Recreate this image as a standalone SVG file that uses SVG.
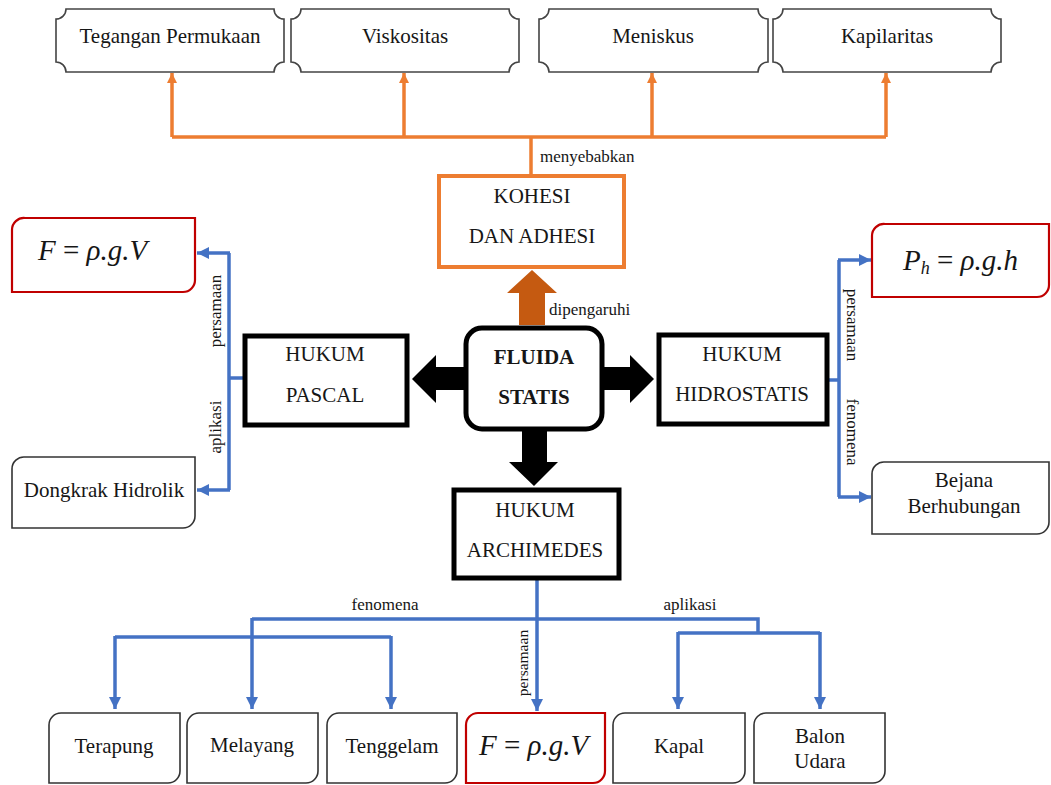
<svg xmlns="http://www.w3.org/2000/svg" width="1051" height="785" viewBox="0 0 1051 785">
<defs>
<style>
.t{font-family:"Liberation Serif","Times New Roman",serif;font-size:21px;fill:#161616;text-anchor:middle}
.b{font-weight:bold}
.s{font-family:"Liberation Serif","Times New Roman",serif;font-size:17px;fill:#161616}
.m{font-family:"Liberation Serif","Times New Roman",serif;font-size:29px;fill:#161616;font-style:italic}
.plaque{fill:#fff;stroke:#444;stroke-width:1.6}
.rb{fill:#fff;stroke:#333;stroke-width:1.6}
.red{fill:#fff;stroke:#C00000;stroke-width:2.2}
.thick{fill:#fff;stroke:#000;stroke-width:5}
.or{fill:none;stroke:#ED7D31;stroke-width:3.5}
.bl{fill:none;stroke:#4472C4;stroke-width:3.5}
</style>
<marker id="ao" markerUnits="userSpaceOnUse" markerWidth="10" markerHeight="10" refX="10" refY="5" orient="auto">
<path d="M0,0 L10,5 L0,10 Z" fill="#ED7D31"/>
</marker>
<marker id="ab" markerUnits="userSpaceOnUse" markerWidth="12" markerHeight="12" refX="12" refY="6" orient="auto">
<path d="M0,0 L12,6 L0,12 Z" fill="#4472C4"/>
</marker>
</defs>
<rect width="1051" height="785" fill="#fff"/>

<g id="connectors">
<!-- orange -->
<path class="or" d="M531,175 V137"/>
<path class="or" d="M172,137 H886"/>
<path class="or" d="M172,137 V73" marker-end="url(#ao)"/>
<path class="or" d="M404,137 V73" marker-end="url(#ao)"/>
<path class="or" d="M652,137 V73" marker-end="url(#ao)"/>
<path class="or" d="M886,137 V73" marker-end="url(#ao)"/>
<!-- block arrows -->
<polygon points="519,325 545,325 545,293 557,293 532,270 507,293 519,293" fill="#C55A11"/>
<polygon points="465,367 436,367 436,355 412,379 436,403 436,390 465,390" fill="#000"/>
<polygon points="602,367 630,367 630,355 654,379 630,403 630,390 602,390" fill="#000"/>
<polygon points="522,429 547,429 547,462 558,462 534,486 509,462 522,462" fill="#000"/>
<!-- blue left -->
<path class="bl" d="M243,378 H229"/>
<path class="bl" d="M229,253 V490"/>
<path class="bl" d="M230,253 H197" marker-end="url(#ab)"/>
<path class="bl" d="M230,490 H197" marker-end="url(#ab)"/>
<!-- blue right -->
<path class="bl" d="M827,380 H839"/>
<path class="bl" d="M839,260 V497"/>
<path class="bl" d="M838,260 H871" marker-end="url(#ab)"/>
<path class="bl" d="M838,497 H871" marker-end="url(#ab)"/>
<!-- blue bottom -->
<path class="bl" d="M537,578 V711" marker-end="url(#ab)"/>
<path class="bl" d="M252,619 H758 V633"/>
<path class="bl" d="M252,618 V709" marker-end="url(#ab)"/>
<path class="bl" d="M115,637 H391"/>
<path class="bl" d="M115,636 V709" marker-end="url(#ab)"/>
<path class="bl" d="M391,636 V709" marker-end="url(#ab)"/>
<path class="bl" d="M678,633 H820"/>
<path class="bl" d="M678,632 V709" marker-end="url(#ab)"/>
<path class="bl" d="M820,632 V709" marker-end="url(#ab)"/>
<!-- labels -->
<text class="s" x="540" y="162">menyebabkan</text>
<text class="s" x="549" y="315">dipengaruhi</text>
<text class="s" transform="translate(221,311) rotate(-90)" text-anchor="middle">persamaan</text>
<text class="s" transform="translate(221,427) rotate(-90)" text-anchor="middle">aplikasi</text>
<text class="s" transform="translate(847,325) rotate(90)" text-anchor="middle">persamaan</text>
<text class="s" transform="translate(847,432) rotate(90)" text-anchor="middle">fenomena</text>
<text class="s" x="385" y="610" text-anchor="middle">fenomena</text>
<text class="s" x="690" y="610" text-anchor="middle">aplikasi</text>
<text class="s" transform="translate(528,663) rotate(-90)" text-anchor="middle" style="font-size:15.5px">persamaan</text>
</g>

<g id="n-tegangan">
<path class="plaque" d="M66,9 H274 A10,10 0 0 0 284,19 V62 A10,10 0 0 0 274,72 H66 A10,10 0 0 0 56,62 V19 A10,10 0 0 0 66,9 Z"/>
<text class="t" x="170" y="43">Tegangan Permukaan</text>
</g>
<g id="n-viskositas">
<path class="plaque" d="M301,9 H509 A10,10 0 0 0 519,19 V62 A10,10 0 0 0 509,72 H301 A10,10 0 0 0 291,62 V19 A10,10 0 0 0 301,9 Z"/>
<text class="t" x="405" y="43">Viskositas</text>
</g>
<g id="n-meniskus">
<path class="plaque" d="M549,9 H758 A10,10 0 0 0 768,19 V62 A10,10 0 0 0 758,72 H549 A10,10 0 0 0 539,62 V19 A10,10 0 0 0 549,9 Z"/>
<text class="t" x="653" y="43">Meniskus</text>
</g>
<g id="n-kapilaritas">
<path class="plaque" d="M783,9 H991 A10,10 0 0 0 1001,19 V62 A10,10 0 0 0 991,72 H783 A10,10 0 0 0 773,62 V19 A10,10 0 0 0 783,9 Z"/>
<text class="t" x="887" y="43">Kapilaritas</text>
</g>

<g id="n-kohesi">
<rect x="439" y="176" width="185" height="91" fill="#fff" stroke="#ED7D31" stroke-width="4"/>
<text class="t" x="532" y="203">KOHESI</text>
<text class="t" x="532" y="243">DAN ADHESI</text>
</g>

<g id="n-fluida">
<rect x="466" y="328" width="136" height="101" rx="16" class="thick"/>
<text class="t b" x="534" y="364">FLUIDA</text>
<text class="t b" x="534" y="404">STATIS</text>
</g>

<g id="n-pascal">
<rect x="245" y="336" width="162" height="89" class="thick"/>
<text class="t" x="325" y="361">HUKUM</text>
<text class="t" x="325" y="402">PASCAL</text>
</g>

<g id="n-hidrostatis">
<rect x="659" y="335" width="168" height="89" class="thick"/>
<text class="t" x="742" y="361">HUKUM</text>
<text class="t" x="742" y="401">HIDROSTATIS</text>
</g>

<g id="n-archimedes">
<rect x="454" y="490" width="165" height="88" class="thick"/>
<text class="t" x="535" y="517">HUKUM</text>
<text class="t" x="535" y="557">ARCHIMEDES</text>
</g>

<g id="n-f-left">
<path class="red" d="M25,218 H195 V280 A12,12 0 0 1 183,292 H12 V230 A12,12 0 0 1 25,218 Z"/>
<text class="m" x="38" y="260">F<tspan font-style="normal"> = </tspan>ρ.g.V</text>
</g>

<g id="n-dongkrak">
<path class="rb" d="M25,457 H195 V516 A12,12 0 0 1 183,528 H12 V469 A12,12 0 0 1 25,457 Z"/>
<text class="t" x="104" y="497">Dongkrak Hidrolik</text>
</g>

<g id="n-ph">
<path class="red" d="M885,224 H1049 V285 A12,12 0 0 1 1037,297 H872 V236 A12,12 0 0 1 885,224 Z"/>
<text class="m" x="903" y="270">P<tspan font-size="18" dy="4">h</tspan><tspan font-style="normal" dy="-4"> = </tspan>ρ.g.h</text>
</g>

<g id="n-bejana">
<path class="rb" d="M885,462 H1049 V522 A12,12 0 0 1 1037,534 H872 V474 A12,12 0 0 1 885,462 Z"/>
<text class="t" x="964" y="487">Bejana</text>
<text class="t" x="964" y="513">Berhubungan</text>
</g>

<g id="n-terapung">
<path class="rb" d="M61,713 H180 V771 A12,12 0 0 1 168,783 H49 V725 A12,12 0 0 1 61,713 Z"/>
<text class="t" x="114" y="753">Terapung</text>
</g>
<g id="n-melayang">
<path class="rb" d="M199,713 H318 V771 A12,12 0 0 1 306,783 H187 V725 A12,12 0 0 1 199,713 Z"/>
<text class="t" x="252" y="752">Melayang</text>
</g>
<g id="n-tenggelam">
<path class="rb" d="M339,713 H457 V771 A12,12 0 0 1 445,783 H327 V725 A12,12 0 0 1 339,713 Z"/>
<text class="t" x="392" y="753">Tenggelam</text>
</g>
<g id="n-f-bottom">
<path class="red" d="M478,713 H605 V771 A12,12 0 0 1 593,783 H466 V725 A12,12 0 0 1 478,713 Z"/>
<text class="m" x="479" y="755">F<tspan font-style="normal"> = </tspan>ρ.g.V</text>
</g>
<g id="n-kapal">
<path class="rb" d="M625,713 H745 V771 A12,12 0 0 1 733,783 H613 V725 A12,12 0 0 1 625,713 Z"/>
<text class="t" x="679" y="753">Kapal</text>
</g>
<g id="n-balon">
<path class="rb" d="M766,713 H885 V771 A12,12 0 0 1 873,783 H754 V725 A12,12 0 0 1 766,713 Z"/>
<text class="t" x="820" y="743">Balon</text>
<text class="t" x="820" y="768">Udara</text>
</g>
</svg>
